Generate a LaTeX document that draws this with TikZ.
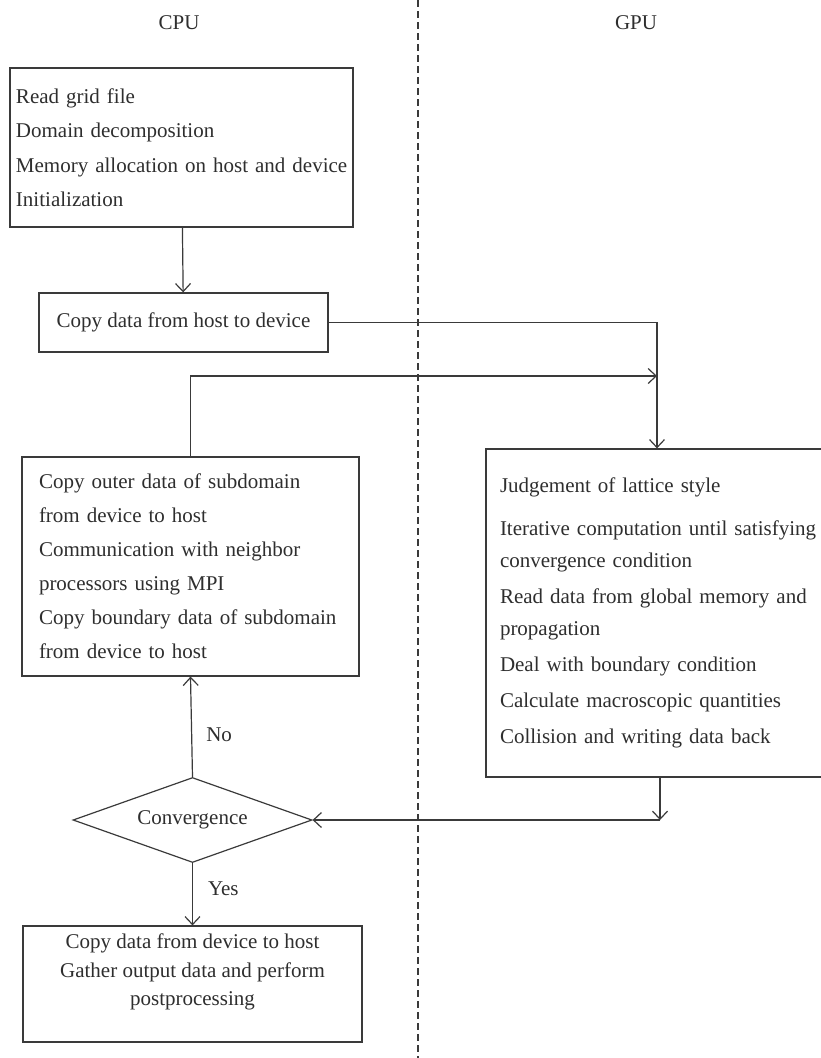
\documentclass[tikz,border=0pt]{standalone}
\usepackage{fontspec}
\setmainfont{Liberation Serif}
\usepackage{tikz}
\usetikzlibrary{positioning,arrows.meta,shapes.geometric,calc}
\definecolor{ink}{HTML}{3A3A3A}
\definecolor{txt}{HTML}{2E2E2E}
\tikzset{
  stepbox/.style={rectangle, draw=ink, line width=1.2pt, text=txt, align=left, inner ysep=0pt},
  decide/.style={diamond, aspect=2.81, draw=ink, line width=1.2pt, text=txt, inner sep=0pt, minimum width=239pt, minimum height=85pt},
  lane/.style={text=txt, inner sep=0pt},
  flow/.style={->, draw=ink, line width=1.2pt},
  divider/.style={draw=ink, line width=1.1pt, dash pattern=on 7pt off 4pt},
  >={Straight Barb[length=8pt,width=15pt]},
}

\begin{document}
\begin{tikzpicture}[x=1pt,y=-1pt,font=\fontsize{21}{34.5}\selectfont]
\useasboundingbox (0,0) rectangle (821,1058);
% lanes
\coordinate (divtop) at (418,0);
\coordinate (divbot) at (418,1058);
\draw[divider] (divtop) -- (divbot);
\node[lane] (cpu) at (179,23) {CPU};
\node[lane] (gpu) at (636,23) {GPU};
% CPU side
\node[stepbox, inner xsep=6pt, text width=331pt, minimum height=159pt] (init) at (181.5,147.5)
  {Read grid file\\Domain decomposition\\\mbox{Memory allocation on host and device}\\Initialization};
\node[stepbox, align=center, minimum width=289pt, minimum height=59pt] (h2d) at (183.5,322.5)
  {Copy data from host to device};
\node[stepbox, inner xsep=17pt, text width=303pt, minimum height=219pt, font=\fontsize{21}{34}\selectfont] (comm) at (190.5,566.5)
  {Copy outer data of subdomain\\from device to host\\Communication with neighbor\\processors using MPI\\\mbox{Copy boundary data of subdomain}\\from device to host};
\node[decide] (conv) at (192.5,820) {Convergence};
\node[stepbox, minimum width=339pt, minimum height=116pt] (post) at (192.5,984) {};
\node[lane, align=center, font=\fontsize{21}{28.5}\selectfont] (posttxt) at (192.5,972)
  {Copy data from device to host\\Gather output data and perform\\postprocessing};
% GPU side
\node[stepbox, inner xsep=14pt, text width=321pt, minimum height=328pt, font=\fontsize{21}{32}\selectfont] (kern) at (660.5,613)
  {Judgement of lattice style\\[11pt]\mbox{Iterative computation until satisfying}\\convergence condition\\[4pt]Read data from global memory and\\propagation\\[4pt]Deal with boundary condition\\[4pt]Calculate macroscopic quantities\\[4pt]Collision and writing data back};
\coordinate (gin) at (657,376);
\coordinate (gout) at (660,820);
% connectors
\draw[flow] (init) -- (h2d);
\draw[flow] (h2d.east) -| (gin |- kern.north);
\draw[flow] (comm.north) |- (gin);
\draw[flow] (gout |- kern.south) -- (gout);
\draw[flow] (gout) -- (conv.east);
\draw[flow] (conv.north) -- node[lane, right=14pt, pos=0.42] (no) {No} (comm.south);
\draw[flow] (conv.south) -- node[lane, right=15pt, pos=0.41] (yes) {Yes} (post.north);
\end{tikzpicture}
\end{document}
